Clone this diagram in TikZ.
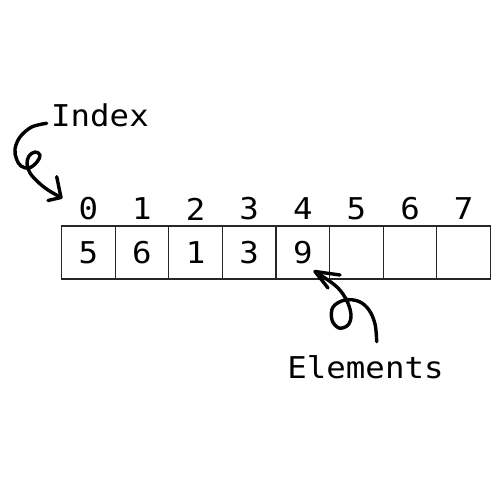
\documentclass[tikz,border=0pt]{standalone}
\usepackage{fontspec}
\newfontfamily\monofnt[FakeStretch=1.08]{DejaVu Sans Mono}
\tikzset{
  cellbox/.style={draw=black!85, line width=1.2pt, minimum width=53.6pt, minimum height=53pt, inner sep=0pt, outer sep=0pt, anchor=north west, font=\monofnt\fontsize{30}{30}\selectfont},
  idxlbl/.style={inner sep=0pt, font=\monofnt\fontsize{30}{30}\selectfont},
  note/.style={inner sep=0pt, font=\monofnt\fontsize{30}{30}\selectfont},
  scribble/.style={line width=3.4pt, line cap=round, line join=round, black}
}
\begin{document}
\begin{tikzpicture}[x=1pt,y=-1pt]
\useasboundingbox (0,0) rectangle (500,500);
\fill[white] (0,0) rectangle (500,500);
\foreach \i/\v in {0/5,1/6,2/1,3/3,4/9,5/{},6/{},7/{}}{
  \node[cellbox] (c\i) at ({61.5+53.625*\i},226) {\v};
  \node[idxlbl] (i\i) at ({61.5+53.625*(\i+0.5)},209) {\i};
}
\node[note] (index) at (100,115) {Index};
\node[note] (elem) at (365.5,367.5) {Elements};
% Index arrow
\coordinate (is) at (46.7,123.3);
\coordinate (it) at (61,197.5);
\draw[scribble] plot[smooth, tension=0.6] coordinates {(is) (31.7,127) (20,137) (15,149) (16.5,159) (21,166) (29,168) (37,162) (40,155) (35,152) (29,156) (27,164) (30,173) (38,182) (48,190) (it)};
\draw[scribble] (56.7,176.7) -- (it) -- (48,200.5);
% Elements arrow
\coordinate (es) at (376.7,341.7);
\coordinate (et) at (315,271.5);
\draw[scribble] plot[smooth, tension=0.6] coordinates {(es) (375,324) (369,310) (359,301.5) (345,300) (333,307) (332,320) (339,328) (348,325) (351,315) (347,301) (338,288) (325,278) (et)};
\draw[scribble] (340,275) -- (et) -- (328,288);
\end{tikzpicture}
\end{document}
